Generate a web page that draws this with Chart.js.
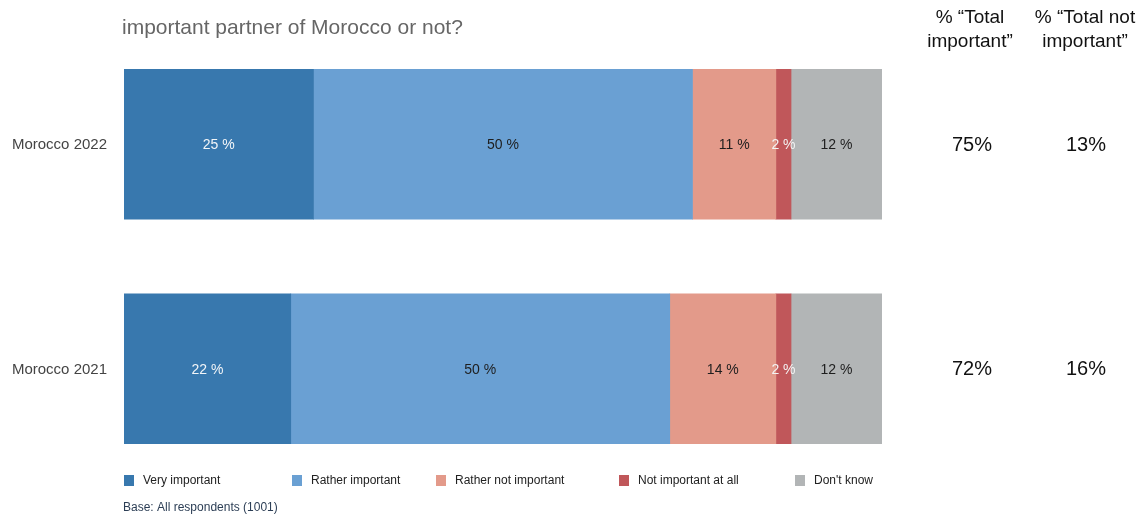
<!DOCTYPE html>
<html>
<head>
<meta charset="utf-8">
<script src="https://cdn.jsdelivr.net/npm/chart.js@4"></script>
<style>
  html, body { margin: 0; padding: 0; background: #fff; }
  #wrap { position: relative; width: 1145px; height: 515px; }
</style>
</head>
<body>
<div id="wrap"><canvas id="chart"></canvas></div>
<script>
const categories = ['Morocco 2022', 'Morocco 2021'];
const veryImportant = [25, 22];
const ratherImportant = [50, 50];
const ratherNotImportant = [11, 14];
const notImportantAtAll = [2, 2];
const dontKnow = [12, 12];
const totalImportant = ['75%', '72%'];
const totalNotImportant = ['13%', '16%'];

const title = 'important partner of Morocco or not?';
const columnHeads = [['% \u201cTotal', 'important\u201d'], ['% \u201cTotal not', 'important\u201d']];
const baseNote = 'Base: All respondents (1001)';

const FONT = '"Liberation Sans", Arial, sans-serif';

const series = [
    { label: 'Very important', data: veryImportant, color: '#3878ae', text: '#f2f5f8' },
    { label: 'Rather important', data: ratherImportant, color: '#6aa0d3', text: '#1e1e1e' },
    { label: 'Rather not important', data: ratherNotImportant, color: '#e39a8a', text: '#1e1e1e' },
    { label: 'Not important at all', data: notImportantAtAll, color: '#c0575a', text: '#f4f4f4' },
    { label: "Don't know", data: dontKnow, color: '#b2b5b6', text: '#1e1e1e' }
];

// labels, side columns, legend and note are painted on the canvas
const extras = {
    id: 'extras',
    afterDatasetsDraw(chart) {
        const ctx = chart.ctx;
        const yScale = chart.scales.y;
        ctx.save();
        ctx.textBaseline = 'middle';

        // values inside the segments
        ctx.font = '14px ' + FONT;
        ctx.textAlign = 'center';
        chart.data.datasets.forEach((ds, i) => {
            chart.getDatasetMeta(i).data.forEach((bar, j) => {
                const left = Math.min(bar.x, bar.base);
                const right = Math.max(bar.x, bar.base);
                ctx.fillStyle = series[i].text;
                ctx.fillText(ds.data[j] + ' %', (left + right) / 2, bar.y + 1);
            });
        });

        // category names
        ctx.font = '15px ' + FONT;
        ctx.textAlign = 'right';
        ctx.fillStyle = '#444';
        categories.forEach((c, j) => {
            ctx.fillText(c, 107, yScale.getPixelForValue(j) + 1);
        });

        // summary columns
        ctx.font = '20px ' + FONT;
        ctx.textAlign = 'center';
        ctx.fillStyle = '#111';
        categories.forEach((c, j) => {
            const y = yScale.getPixelForValue(j) + 1;
            ctx.fillText(totalImportant[j], 972, y);
            ctx.fillText(totalNotImportant[j], 1086, y);
        });
        ctx.font = '19px ' + FONT;
        [970, 1085].forEach((x, k) => {
            ctx.fillText(columnHeads[k][0], x, 18);
            ctx.fillText(columnHeads[k][1], x, 42);
        });

        // title
        ctx.font = '21px ' + FONT;
        ctx.textAlign = 'left';
        ctx.fillStyle = '#666';
        ctx.fillText(title, 122, 28);

        // legend
        const legendX = [124, 292, 436, 619, 795];
        ctx.font = '12px ' + FONT;
        series.forEach((s, i) => {
            ctx.fillStyle = s.color;
            ctx.fillRect(legendX[i], 475, 10, 11);
            ctx.fillStyle = '#222';
            ctx.fillText(s.label, legendX[i] + 19, 481);
        });

        ctx.fillStyle = '#2c3e55';
        ctx.fillText(baseNote, 123, 508);
        ctx.restore();
    }
};

new Chart(document.getElementById('chart'), {
    type: 'bar',
    data: {
        labels: categories,
        datasets: series.map(s => ({
            label: s.label,
            data: s.data,
            backgroundColor: s.color,
            borderWidth: 0,
            barThickness: 150
        }))
    },
    options: {
        indexAxis: 'y',
        responsive: true,
        maintainAspectRatio: false,
        animation: false,
        layout: { padding: { left: 124, right: 263, top: 32, bottom: 34 } },
        scales: {
            x: { stacked: true, min: 0, max: 100, display: false },
            y: { stacked: true, display: false }
        },
        plugins: {
            legend: { display: false },
            tooltip: { enabled: false }
        }
    },
    plugins: [extras]
});
</script>
</body>
</html>
